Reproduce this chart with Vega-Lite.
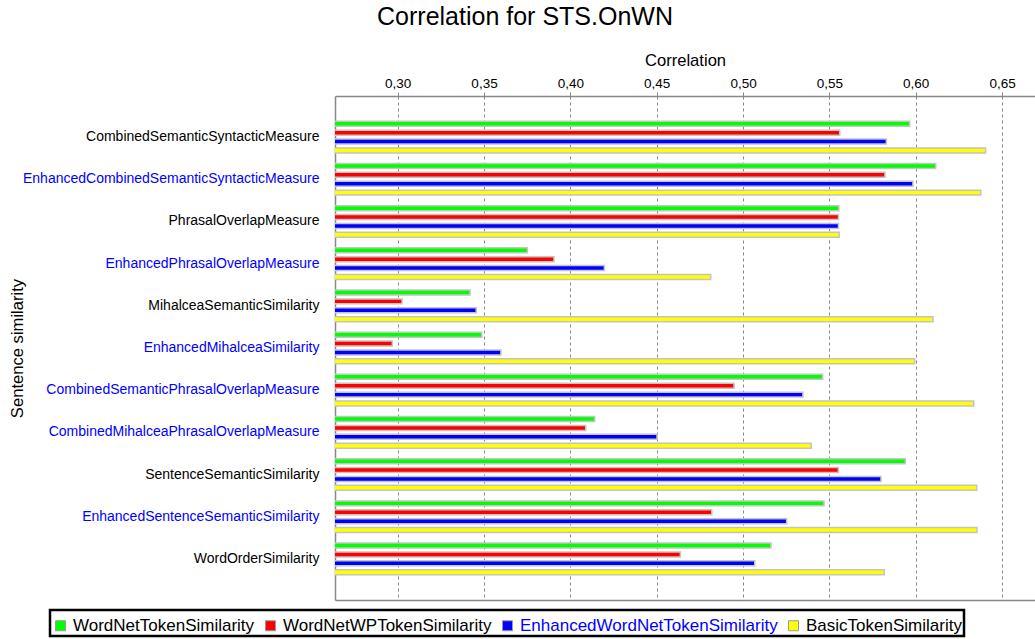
{
  "$schema": "https://vega.github.io/schema/vega-lite/v6.json",
  "autosize": {"type": "none"},
  "width": 700,
  "height": 504,
  "padding": {"left": 335, "top": 96, "right": 0, "bottom": 39},
  "background": "white",
  "title": {"text": "Correlation for STS.OnWN", "fontSize": 25, "font": "Liberation Sans", "fontWeight": "normal", "color": "black", "anchor": "middle", "dx": -160, "offset": 22},
  "config": {"view": {"stroke": null}, "font": "Liberation Sans"},
  "data": {"values": [
    {"measure": "CombinedSemanticSyntacticMeasure", "series": "WordNetTokenSimilarity", "correlation": 0.5965},
    {"measure": "CombinedSemanticSyntacticMeasure", "series": "WordNetWPTokenSimilarity", "correlation": 0.556},
    {"measure": "CombinedSemanticSyntacticMeasure", "series": "EnhancedWordNetTokenSimilarity", "correlation": 0.583},
    {"measure": "CombinedSemanticSyntacticMeasure", "series": "BasicTokenSimilarity", "correlation": 0.6405},
    {"measure": "EnhancedCombinedSemanticSyntacticMeasure", "series": "WordNetTokenSimilarity", "correlation": 0.6116},
    {"measure": "EnhancedCombinedSemanticSyntacticMeasure", "series": "WordNetWPTokenSimilarity", "correlation": 0.5822},
    {"measure": "EnhancedCombinedSemanticSyntacticMeasure", "series": "EnhancedWordNetTokenSimilarity", "correlation": 0.5984},
    {"measure": "EnhancedCombinedSemanticSyntacticMeasure", "series": "BasicTokenSimilarity", "correlation": 0.6377},
    {"measure": "PhrasalOverlapMeasure", "series": "WordNetTokenSimilarity", "correlation": 0.5555},
    {"measure": "PhrasalOverlapMeasure", "series": "WordNetWPTokenSimilarity", "correlation": 0.5553},
    {"measure": "PhrasalOverlapMeasure", "series": "EnhancedWordNetTokenSimilarity", "correlation": 0.5553},
    {"measure": "PhrasalOverlapMeasure", "series": "BasicTokenSimilarity", "correlation": 0.5557},
    {"measure": "EnhancedPhrasalOverlapMeasure", "series": "WordNetTokenSimilarity", "correlation": 0.3751},
    {"measure": "EnhancedPhrasalOverlapMeasure", "series": "WordNetWPTokenSimilarity", "correlation": 0.3905},
    {"measure": "EnhancedPhrasalOverlapMeasure", "series": "EnhancedWordNetTokenSimilarity", "correlation": 0.4197},
    {"measure": "EnhancedPhrasalOverlapMeasure", "series": "BasicTokenSimilarity", "correlation": 0.4813},
    {"measure": "MihalceaSemanticSimilarity", "series": "WordNetTokenSimilarity", "correlation": 0.3419},
    {"measure": "MihalceaSemanticSimilarity", "series": "WordNetWPTokenSimilarity", "correlation": 0.3025},
    {"measure": "MihalceaSemanticSimilarity", "series": "EnhancedWordNetTokenSimilarity", "correlation": 0.3455},
    {"measure": "MihalceaSemanticSimilarity", "series": "BasicTokenSimilarity", "correlation": 0.61},
    {"measure": "EnhancedMihalceaSimilarity", "series": "WordNetTokenSimilarity", "correlation": 0.3487},
    {"measure": "EnhancedMihalceaSimilarity", "series": "WordNetWPTokenSimilarity", "correlation": 0.2969},
    {"measure": "EnhancedMihalceaSimilarity", "series": "EnhancedWordNetTokenSimilarity", "correlation": 0.3598},
    {"measure": "EnhancedMihalceaSimilarity", "series": "BasicTokenSimilarity", "correlation": 0.5994},
    {"measure": "CombinedSemanticPhrasalOverlapMeasure", "series": "WordNetTokenSimilarity", "correlation": 0.5461},
    {"measure": "CombinedSemanticPhrasalOverlapMeasure", "series": "WordNetWPTokenSimilarity", "correlation": 0.4948},
    {"measure": "CombinedSemanticPhrasalOverlapMeasure", "series": "EnhancedWordNetTokenSimilarity", "correlation": 0.5347},
    {"measure": "CombinedSemanticPhrasalOverlapMeasure", "series": "BasicTokenSimilarity", "correlation": 0.6336},
    {"measure": "CombinedMihalceaPhrasalOverlapMeasure", "series": "WordNetTokenSimilarity", "correlation": 0.4141},
    {"measure": "CombinedMihalceaPhrasalOverlapMeasure", "series": "WordNetWPTokenSimilarity", "correlation": 0.4089},
    {"measure": "CombinedMihalceaPhrasalOverlapMeasure", "series": "EnhancedWordNetTokenSimilarity", "correlation": 0.4502},
    {"measure": "CombinedMihalceaPhrasalOverlapMeasure", "series": "BasicTokenSimilarity", "correlation": 0.5395},
    {"measure": "SentenceSemanticSimilarity", "series": "WordNetTokenSimilarity", "correlation": 0.594},
    {"measure": "SentenceSemanticSimilarity", "series": "WordNetWPTokenSimilarity", "correlation": 0.5552},
    {"measure": "SentenceSemanticSimilarity", "series": "EnhancedWordNetTokenSimilarity", "correlation": 0.5799},
    {"measure": "SentenceSemanticSimilarity", "series": "BasicTokenSimilarity", "correlation": 0.6353},
    {"measure": "EnhancedSentenceSemanticSimilarity", "series": "WordNetTokenSimilarity", "correlation": 0.5469},
    {"measure": "EnhancedSentenceSemanticSimilarity", "series": "WordNetWPTokenSimilarity", "correlation": 0.4819},
    {"measure": "EnhancedSentenceSemanticSimilarity", "series": "EnhancedWordNetTokenSimilarity", "correlation": 0.5253},
    {"measure": "EnhancedSentenceSemanticSimilarity", "series": "BasicTokenSimilarity", "correlation": 0.6355},
    {"measure": "WordOrderSimilarity", "series": "WordNetTokenSimilarity", "correlation": 0.5162},
    {"measure": "WordOrderSimilarity", "series": "WordNetWPTokenSimilarity", "correlation": 0.4637},
    {"measure": "WordOrderSimilarity", "series": "EnhancedWordNetTokenSimilarity", "correlation": 0.5068},
    {"measure": "WordOrderSimilarity", "series": "BasicTokenSimilarity", "correlation": 0.5818}
  ]},
  "layer": [
    {
      "mark": {"type": "bar", "stroke": "#c4c4c4", "strokeWidth": 1.5, "clip": true},
      "encoding": {
        "y": {
          "field": "measure", "type": "nominal", "sort": null,
          "scale": {"paddingInner": 0.25, "paddingOuter": 0.6},
          "axis": {
            "title": "Sentence similarity", "titleFontSize": 16.6, "titleFontWeight": "normal", "titleColor": "black",
            "titleX": -318, "titleY": 252, "titleAngle": -90, "titleBaseline": "middle", "titleAlign": "center",
            "labelFontSize": 14, "labelLimit": 400, "ticks": false, "labelPadding": 16,
            "domainColor": "#888", "domainWidth": 1.5,
            "labelColor": {"condition": {"test": "indexof(['EnhancedCombinedSemanticSyntacticMeasure','EnhancedPhrasalOverlapMeasure','EnhancedMihalceaSimilarity','CombinedSemanticPhrasalOverlapMeasure','CombinedMihalceaPhrasalOverlapMeasure','EnhancedSentenceSemanticSimilarity'], datum.value) >= 0", "value": "blue"}, "value": "black"}
          }
        },
        "yOffset": {
          "field": "series", "type": "nominal",
          "sort": ["WordNetTokenSimilarity", "WordNetWPTokenSimilarity", "EnhancedWordNetTokenSimilarity", "BasicTokenSimilarity"],
          "scale": {"paddingInner": 0.44, "paddingOuter": 0}
        },
        "x": {
          "field": "correlation", "type": "quantitative",
          "scale": {"domain": [0.2637, 0.6691], "zero": false, "nice": false},
          "axis": {
            "orient": "top", "values": [0.3, 0.35, 0.4, 0.45, 0.5, 0.55, 0.6, 0.65],
            "labelExpr": "replace(format(datum.value, '.2f'), '.', ',')",
            "labelFontSize": 13.5, "labelColor": "black", "labelPadding": 2, "labelFlush": false,
            "tickSize": 4, "tickColor": "#888", "domainColor": "#888", "domainWidth": 1.5,
            "grid": true, "gridColor": "#888", "gridDash": [3, 3],
            "title": "Correlation", "titleFontSize": 16.6, "titleFontWeight": "normal", "titleColor": "black", "titlePadding": 8
          }
        },
        "color": {
          "field": "series", "type": "nominal",
          "scale": {"domain": ["WordNetTokenSimilarity", "WordNetWPTokenSimilarity", "EnhancedWordNetTokenSimilarity", "BasicTokenSimilarity"], "range": ["#00ff00", "#ff0000", "#0000ff", "#ffff00"]},
          "legend": {
            "orient": "none", "legendX": -285, "legendY": 514, "direction": "horizontal", "columns": 4,
            "title": " ", "titleFontSize": 1, "titlePadding": 4,
            "labelFontSize": 17, "labelFont": "Liberation Sans", "labelLimit": 400,
            "symbolType": "square", "symbolSize": 100, "symbolStrokeColor": "#999", "symbolStrokeWidth": 1,
            "labelOffset": 4, "columnPadding": 7, "padding": 2, "strokeColor": "black",
            "encode": {
              "legend": {"update": {"strokeWidth": {"value": 2.5}}},
              "labels": {"update": {"fill": {"signal": "datum.label === 'EnhancedWordNetTokenSimilarity' ? 'blue' : 'black'"}}}
            }
          }
        }
      }
    },
    {
      "mark": {"type": "point", "opacity": 0},
      "encoding": {
        "x": {
          "field": "correlation", "type": "quantitative",
          "axis": {"orient": "bottom", "labels": false, "ticks": false, "grid": false, "title": null, "domainColor": "#888", "domainWidth": 1.5}
        }
      }
    }
  ],
  "resolve": {"axis": {"x": "independent"}}
}
